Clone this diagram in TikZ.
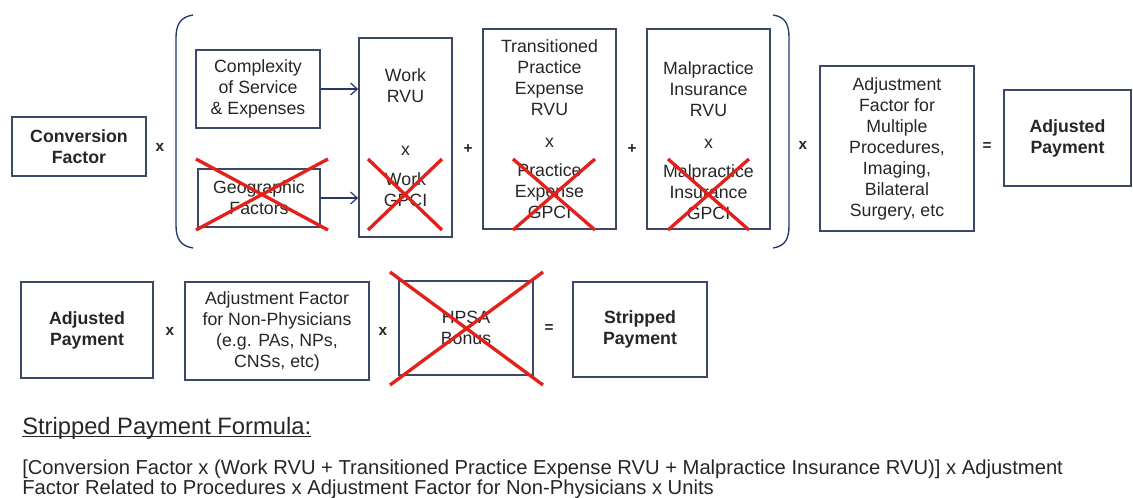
\documentclass[tikz,border=0pt]{standalone}
\usepackage{fontspec}
\setmainfont{Liberation Sans}
\usetikzlibrary{arrows.meta}

\definecolor{boxline}{HTML}{3D4768}
\definecolor{navy}{HTML}{24396B}
\definecolor{crossred}{HTML}{E3211C}
\definecolor{txt}{HTML}{262626}

\newcommand{\bxfont}{\fontsize{13.3}{15.75}\selectfont}
\newcommand{\opfont}{\fontsize{11.5}{13}\selectfont\bfseries}
\newcommand{\headfont}{\fontsize{17.8}{20}\selectfont}
\newcommand{\fmfont}{\fontsize{15.15}{19}\selectfont}

\begin{document}
\begin{tikzpicture}[x=0.75pt,y=-0.75pt,
    box/.style={draw=boxline,line width=1.3pt,align=center,inner sep=0pt,text=txt,font=\bxfont},
    boldbox/.style={box,font=\bxfont\bfseries},
    op/.style={text=txt,font=\opfont,inner sep=0pt},
    cross/.style={draw=crossred,line width=2.5pt},
    brace/.style={draw=navy,line width=1pt},
    feed/.style={draw=navy,line width=0.9pt,-{Straight Barb[length=5pt,width=9pt]}}]
    \useasboundingbox (0,0) rectangle (1133,497);

    % first row
    \node[boldbox,minimum width=100.5pt,minimum height=44.25pt] (conv) at (79,146.5) {Conversion\\Factor};
    \node[op] (t1) at (160,147) {x};
    \node[box,minimum width=93pt,minimum height=58.5pt] (cplx) at (258,89) {Complexity\\of Service\\\& Expenses};
    \node[box,minimum width=91.5pt,minimum height=43.5pt] (geo) at (259,198) {Geographic\\Factors};
    \node[box,minimum width=69.75pt,minimum height=149.25pt] (work) at (405.5,137.5) {Work\\RVU\\[24pt]x\\[6.75pt]Work\\GPCI};
    \node[op] (p1) at (468,149) {+};
    \node[box,minimum width=99.75pt,minimum height=150pt] (trans) at (549.5,129) {Transitioned\\Practice\\Expense\\RVU\\[8pt]x\\[6pt]Practice\\Expense\\GPCI};
    \node[op] (p2) at (632,149) {+};
    \node[box,minimum width=92.25pt,minimum height=150pt] (malp) at (708.5,129) {\strut\\Malpractice\\Insurance\\RVU\\[8pt]x\\[6pt]Malpractice\\Insurance\\GPCI};
    \node[op] (t2) at (803,145) {x};
    \node[box,minimum width=115.5pt,minimum height=123.75pt] (adjmult) at (897,148.5) {Adjustment\\Factor for\\Multiple\\Procedures,\\Imaging,\\Bilateral\\Surgery, etc};
    \node[op] (eq1) at (987,147) {=};
    \node[boldbox,minimum width=95.25pt,minimum height=72pt] (adjpay) at (1067.5,138) {Adjusted\\Payment};

    \draw[feed] (cplx.east) -- (cplx.east -| work.west);
    \draw[feed] (geo.east) -- (geo.east -| work.west);

    % brackets
    \draw[brace] (193,15) .. controls (180,17) and (176,25) .. (176,38) -- (176,225) .. controls (176,238) and (180,246) .. (193,248);
    \draw[brace] (773,15) .. controls (786,17) and (789,25) .. (789,38) -- (789,225) .. controls (789,238) and (786,246) .. (773,248);

    % second row
    \node[boldbox,minimum width=99pt,minimum height=72pt] (adjpay2) at (87,330) {Adjusted\\Payment};
    \node[op] (t3) at (170,331) {x};
    \node[box,minimum width=138pt,minimum height=73.5pt] (nonphys) at (277,331) {Adjustment Factor\\for Non-Physicians\\(e.g. PAs, NPs,\\CNSs, etc)};
    \node[op] (t4) at (383,331) {x};
    \node[box,minimum width=100.5pt,minimum height=70.5pt] (hpsa) at (466,328) {HPSA\\Bonus};
    \node[op] (eq2) at (549,329) {=};
    \node[boldbox,minimum width=100.5pt,minimum height=71.25pt] (strip) at (640,329.5) {Stripped\\Payment};

    % crossed out parts
    \draw[cross] (196,159) -- (328,230) (196,230) -- (328,159);
    \draw[cross] (368,159) -- (442,230) (368,230) -- (442,159);
    \draw[cross] (513,159) -- (595,230) (513,230) -- (595,159);
    \draw[cross] (668,159) -- (749,230) (668,230) -- (749,159);
    \draw[cross] (390,272) -- (543,385) (390,385) -- (543,272);

    % formula
    \node[anchor=base west,inner sep=0pt,text=txt,font=\headfont] (head) at (22,434) {Stripped Payment Formula:};
    \draw[txt,line width=0.9pt] ([yshift=-1.6pt]head.base west) -- ([yshift=-1.6pt]head.base east);
    \node[anchor=base west,inner sep=0pt,text=txt,font=\fmfont] (fline1) at (22,474) {[Conversion Factor x (Work RVU + Transitioned Practice Expense RVU + Malpractice Insurance RVU)] x Adjustment};
    \node[anchor=base west,inner sep=0pt,text=txt,font=\fmfont] (fline2) at (22,494) {Factor Related to Procedures x Adjustment Factor for Non-Physicians x Units};
\end{tikzpicture}
\end{document}
